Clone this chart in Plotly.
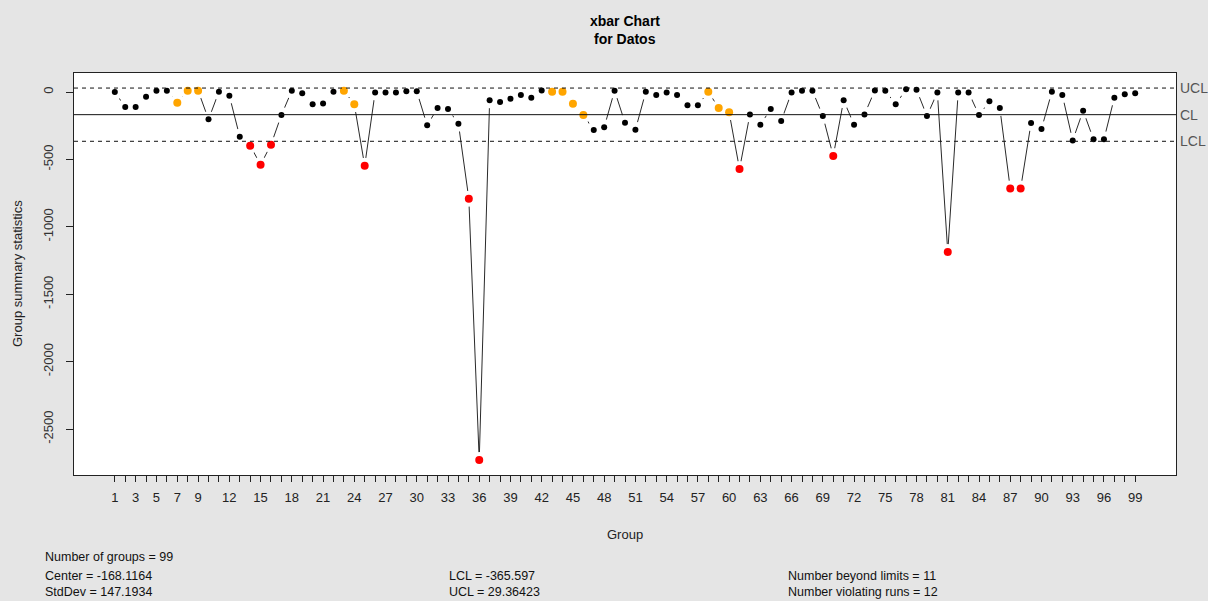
import plotly.graph_objects as go

# ---------------- data ----------------
groups = list(range(1, 100))
values = [
    0, -111, -111, -35, 10, 10, -79, 10, 10, -203,
    2, -27, -331, -398, -539, -391, -171, 10, -10, -91,
    -86, 2, 10, -91, -547, -3, -3, -3, 5, 5,
    -247, -119, -126, -235, -791, -2730, -62, -74, -50, -22,
    -42, 12, 2, 2, -87, -171, -282, -262, 10, -228,
    -280, 2, -22, -3, -22, -99, -99, 2, -119, -151,
    -571, -166, -242, -126, -215, -3, 10, 10, -178, -475,
    -62, -242, -166, 12, 10, -91, 20, 17, -178, -3,
    -1187, -3, -3, -171, -69, -119, -715, -715, -230, -274,
    2, -22, -359, -139, -351, -351, -42, -17, -10,
]
violating_runs = [7, 8, 9, 23, 24, 43, 44, 45, 46, 58, 59, 60]

center = -168.1164
stddev = 147.1934
lcl = -365.597
ucl = 29.36423

x_tick_labels = [1, 3, 5, 7, 9] + list(range(12, 100, 3))
y_tick_vals = [0, -500, -1000, -1500, -2000, -2500]

title_lines = ["xbar Chart", "for Datos"]

# ---------------- styling ----------------
FONT = "Liberation Sans, Arial, sans-serif"
W, H = 1208, 601
L, R, T, B = 74, 32, 73, 126
PW, PH = W - L - R, H - T - B


def px_x(p):
    return (p - L) / PW


def px_y(p):
    return (H - B - p) / PH


colors = []
sizes = []
for g, v in zip(groups, values):
    if v < lcl or v > ucl:
        colors.append("#FF0000")
        sizes.append(8)
    elif g in violating_runs:
        colors.append("#FFA500")
        sizes.append(8)
    else:
        colors.append("#000000")
        sizes.append(6)

fig = go.Figure()
# connecting line
fig.add_trace(go.Scatter(x=groups, y=values, mode="lines",
                         line=dict(color="#2a2a2a", width=1),
                         hoverinfo="skip", showlegend=False))
# white halos to mimic R's type="b" gaps
fig.add_trace(go.Scatter(x=groups, y=values, mode="markers",
                         marker=dict(color="white", size=16, line=dict(width=0)),
                         hoverinfo="skip", showlegend=False))
# points
fig.add_trace(go.Scatter(x=groups, y=values, mode="markers",
                         marker=dict(color=colors, size=sizes, opacity=1,
                                     line=dict(width=0)),
                         showlegend=False))

# limit lines
for val, dash in [(ucl, "4px,4px"), (center, "solid"), (lcl, "4px,4px")]:
    fig.add_shape(type="line", xref="paper", yref="y", x0=0, x1=1, y0=val, y1=val,
                  line=dict(color="#111111", width=1, dash=dash), layer="above")

annotations = []
for val, lab in [(ucl, "UCL"), (center, "CL"), (lcl, "LCL")]:
    annotations.append(dict(x=px_x(1178), y=val, xref="paper", yref="y", text=lab,
                            showarrow=False, xanchor="left", yanchor="middle",
                            font=dict(family=FONT, size=14, color="#555555")))

# title
annotations.append(dict(x=0.5, y=px_y(21), xref="paper", yref="paper",
                        text="<b>%s</b>" % title_lines[0], showarrow=False,
                        xanchor="center", yanchor="middle",
                        font=dict(family=FONT, size=14, color="#000000")))
annotations.append(dict(x=0.5, y=px_y(39), xref="paper", yref="paper",
                        text="<b>%s</b>" % title_lines[1], showarrow=False,
                        xanchor="center", yanchor="middle",
                        font=dict(family=FONT, size=14, color="#000000")))
# axis titles
annotations.append(dict(x=0.5, y=px_y(534), xref="paper", yref="paper", text="Group",
                        showarrow=False, xanchor="center", yanchor="middle",
                        font=dict(family=FONT, size=13, color="#222222")))
annotations.append(dict(x=px_x(17), y=0.5, xref="paper", yref="paper",
                        text="Group summary statistics", textangle=-90,
                        showarrow=False, xanchor="center", yanchor="middle",
                        font=dict(family=FONT, size=13, color="#222222")))

# stats text
stats = [
    (45, 557, "Number of groups = %d" % len(groups)),
    (45, 576, "Center = %s" % "-168.1164"),
    (45, 592, "StdDev = %s" % "147.1934"),
    (449, 576, "LCL = %s" % "-365.597"),
    (449, 592, "UCL = %s" % "29.36423"),
    (788, 576, "Number beyond limits = %d" % sum(1 for v in values if v < lcl or v > ucl)),
    (788, 592, "Number violating runs = %d" % len(violating_runs)),
]
for xp, yp, txt in stats:
    annotations.append(dict(x=px_x(xp - 2), y=px_y(yp), xref="paper", yref="paper", text=txt,
                            showarrow=False, xanchor="left", yanchor="middle",
                            font=dict(family=FONT, size=12.5, color="#111111")))

fig.update_layout(
    width=W, height=H,
    margin=dict(l=L, r=R, t=T, b=B, autoexpand=False),
    paper_bgcolor="#E5E5E5", plot_bgcolor="white",
    font=dict(family=FONT, size=13, color="#222222"),
    annotations=annotations,
    showlegend=False,
)
fig.update_xaxes(
    range=[-2.92, 102.92], showgrid=False, zeroline=False,
    showline=True, mirror=True, linecolor="#222222", linewidth=1,
    tickmode="array", tickvals=groups,
    ticktext=[str(g) if g in x_tick_labels else "" for g in groups],
    ticks="outside", ticklen=6, tickcolor="#222222", tickwidth=1,
    tickfont=dict(family=FONT, size=13, color="#222222"), tickangle=0,
    ticklabelstandoff=4,
    automargin=False,
)
fig.update_yaxes(
    range=[-2841, 141], showgrid=False, zeroline=False,
    showline=True, mirror=True, linecolor="#222222", linewidth=1,
    tickmode="array", tickvals=y_tick_vals, ticktext=[str(v) for v in y_tick_vals],
    ticks="outside", ticklen=7, tickcolor="#222222", tickwidth=1,
    tickangle=-90, tickfont=dict(family=FONT, size=13, color="#333333"),
    ticklabelstandoff=8,
    automargin=False,
)

fig.write_html("out.html")
